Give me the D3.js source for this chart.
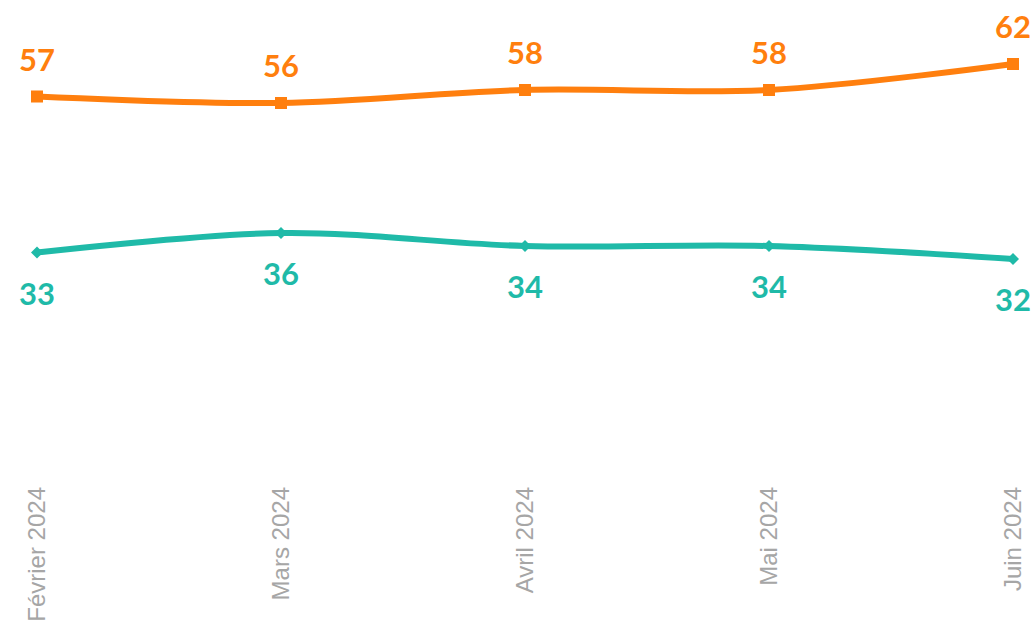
<!DOCTYPE html>
<html>
<head>
<meta charset="utf-8">
<script src="https://cdn.jsdelivr.net/npm/d3@7"></script>
<style>
  body { margin: 0; background: #fff; }
  svg { display: block; }
</style>
</head>
<body>
<svg id="chart"></svg>
<script>
var months = ["Février 2024", "Mars 2024", "Avril 2024", "Mai 2024", "Juin 2024"];
var orangeValues = [57, 56, 58, 58, 62];
var tealValues = [33, 36, 34, 34, 32];

var svgWidth = 1036;
var svgHeight = 621;

var svg = d3.select("#chart")
    .attr("width", svgWidth)
    .attr("height", svgHeight);

var x = d3.scalePoint()
    .domain(months)
    .range([37, 1013]);

var y = d3.scaleLinear()
    .domain([0, 70])
    .range([467, 12]);

var line = d3.line()
    .curve(d3.curveCatmullRom.alpha(0.5))
    .x(function(d, i) { return x(months[i]); })
    .y(function(d) { return y(d); });

// orange series
svg.append("path")
    .datum(orangeValues)
    .attr("fill", "none")
    .attr("stroke", "#ff7f0e")
    .attr("stroke-width", 6)
    .attr("d", line);

svg.selectAll(".sq")
    .data(orangeValues)
    .enter().append("rect")
    .attr("x", function(d, i) { return x(months[i]) - 6; })
    .attr("y", function(d) { return y(d) - 6; })
    .attr("width", 12)
    .attr("height", 12)
    .attr("fill", "#ff7f0e");

svg.selectAll(".olab")
    .data(orangeValues)
    .enter().append("text")
    .attr("x", function(d, i) { return x(months[i]); })
    .attr("y", function(d) { return y(d) - 26; })
    .attr("text-anchor", "middle")
    .attr("font-family", "Lato, sans-serif")
    .attr("font-weight", "bold")
    .attr("font-size", 31)
    .attr("fill", "#ff7f0e")
    .text(function(d) { return d; });

// teal series
svg.append("path")
    .datum(tealValues)
    .attr("fill", "none")
    .attr("stroke", "#1fbaa8")
    .attr("stroke-width", 6)
    .attr("d", line);

svg.selectAll(".dm")
    .data(tealValues)
    .enter().append("path")
    .attr("transform", function(d, i) { return "translate(" + x(months[i]) + "," + y(d) + ")"; })
    .attr("d", "M-6,0L0,-6L6,0L0,6Z")
    .attr("fill", "#1fbaa8");

svg.selectAll(".tlab")
    .data(tealValues)
    .enter().append("text")
    .attr("x", function(d, i) { return x(months[i]); })
    .attr("y", function(d) { return y(d) + 52; })
    .attr("text-anchor", "middle")
    .attr("font-family", "Lato, sans-serif")
    .attr("font-weight", "bold")
    .attr("font-size", 31)
    .attr("fill", "#1fbaa8")
    .text(function(d) { return d; });

// category labels
svg.selectAll(".cat")
    .data(months)
    .enter().append("text")
    .attr("transform", function(d) { return "translate(" + (x(d) + 8) + ",487) rotate(-90)"; })
    .attr("text-anchor", "end")
    .attr("font-family", "Liberation Sans, Arial, sans-serif")
    .attr("font-size", 24)
    .attr("fill", "#a6a6a6")
    .text(function(d) { return d; });
</script>
</body>
</html>
